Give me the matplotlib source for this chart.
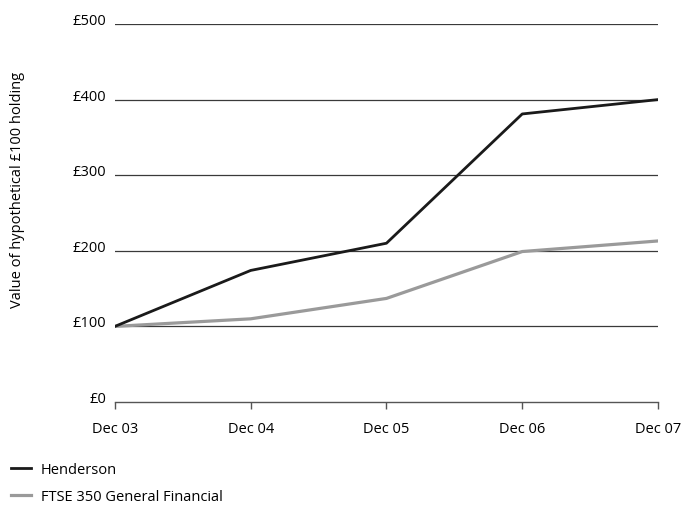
import numpy as np
import matplotlib.pyplot as plt
import matplotlib.transforms as mtransforms
from matplotlib.lines import Line2D

# data
periods = ["Dec 03", "Dec 04", "Dec 05", "Dec 06", "Dec 07"]
henderson = [100, 174, 210, 381, 400]
ftse = [100, 110, 137, 199, 213]
y_ticks = [0, 100, 200, 300, 400, 500]
y_labels = ["£0", "£100", "£200", "£300", "£400", "£500"]

plt.rcParams['font.family'] = ['Open Sans', 'DejaVu Sans']
fs = 10.5

fig = plt.figure(figsize=(6.84, 5.06), dpi=100)
ax = fig.add_axes([0.168, 0.2036, 0.794, 0.747])

x = np.arange(len(periods))

# grid lines
for v in y_ticks[1:]:
    ax.axhline(v, color="#3a3a3a", linewidth=0.9, zorder=1)

ax.plot(x, ftse, color="#9a9a9a", linewidth=2.3, zorder=3)
ax.plot(x, henderson, color="#1a1a1a", linewidth=2.0, zorder=4)

ax.set_xlim(0, len(periods) - 1)
ax.set_ylim(0, 500)

for s in ["top", "right", "left"]:
    ax.spines[s].set_visible(False)
ax.spines["bottom"].set_color("#555555")
ax.spines["bottom"].set_linewidth(1.0)

ax.set_xticks(x)
ax.set_xticklabels(periods, fontsize=fs)
ax.tick_params(axis="x", length=5, width=1.0, color="#555555", pad=9)

ax.set_yticks(y_ticks)
ax.set_yticklabels(y_labels, fontsize=fs)
ax.tick_params(axis="y", length=0, pad=6)
shift = mtransforms.ScaledTranslation(0, 4 / 72, fig.dpi_scale_trans)
for lab in ax.get_yticklabels():
    lab.set_transform(lab.get_transform() + shift)

fig.text(0.026, 0.625, "Value of hypothetical £100 holding", rotation=90,
         fontsize=fs, ha="center", va="center")

# legend
handles = [Line2D([], [], color="#1a1a1a", linewidth=2.0),
           Line2D([], [], color="#9a9a9a", linewidth=2.3)]
fig.legend(handles, ["Henderson", "FTSE 350 General Financial"],
           loc="lower left", bbox_to_anchor=(-0.003, -0.024), frameon=False,
           fontsize=fs, handlelength=1.4, handletextpad=0.65, labelspacing=0.85)

fig.savefig("out.png", dpi=100)
